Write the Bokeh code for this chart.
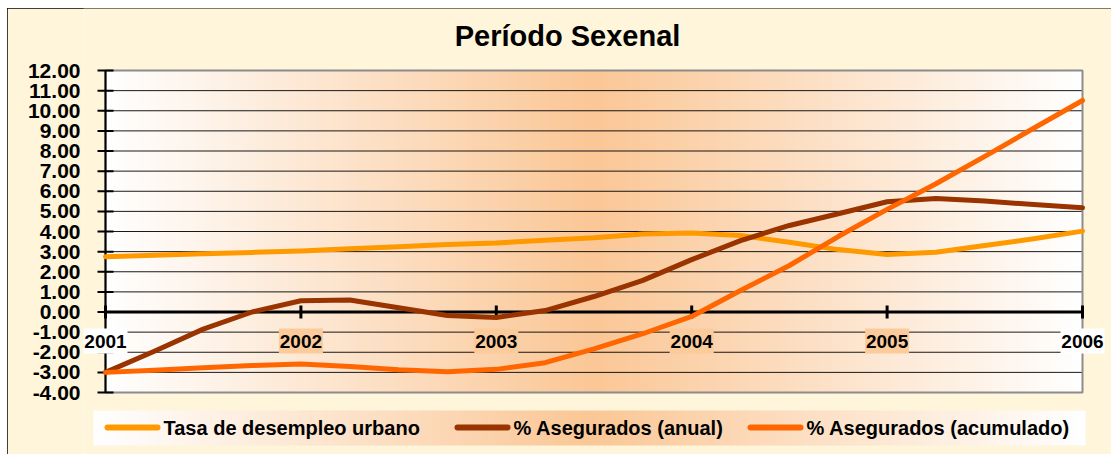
import numpy as np
from bokeh.plotting import figure
from bokeh.layouts import column, row
from bokeh.models import Range1d, FixedTicker, Spacer
from bokeh.core.properties import value
from bokeh.embed import file_html
from bokeh.resources import INLINE

# ---------------- data ----------------
periods = [2001.0, 2001.25, 2001.5, 2001.75, 2002.0, 2002.25, 2002.5, 2002.75,
           2003.0, 2003.25, 2003.5, 2003.75, 2004.0, 2004.25, 2004.5, 2004.75,
           2005.0, 2005.25, 2005.5, 2005.75, 2006.0]
tasa = [2.75, 2.82, 2.89, 2.96, 3.03, 3.14, 3.24, 3.35, 3.43, 3.57, 3.69, 3.88,
        3.93, 3.80, 3.47, 3.10, 2.86, 2.97, 3.30, 3.64, 4.02]
anual = [-3.00, -1.95, -0.85, 0.00, 0.56, 0.60, 0.21, -0.17, -0.27, 0.07, 0.77, 1.57,
         2.60, 3.55, 4.30, 4.88, 5.48, 5.64, 5.51, 5.34, 5.18]
acumulado = [-3.00, -2.90, -2.77, -2.66, -2.58, -2.71, -2.87, -2.97, -2.85, -2.52, -1.83, -1.08,
             -0.22, 1.07, 2.31, 3.75, 5.10, 6.37, 7.73, 9.13, 10.51]
series_names = ["Tasa de desempleo urbano", "% Asegurados (anual)", "% Asegurados (acumulado)"]
years = [2001, 2002, 2003, 2004, 2005, 2006]
year_labels = ["2001", "2002", "2003", "2004", "2005", "2006"]
y_ticks = [12, 11, 10, 9, 8, 7, 6, 5, 4, 3, 2, 1, 0, -1, -2, -3, -4]
y_tick_labels = ["12.00", "11.00", "10.00", "9.00", "8.00", "7.00", "6.00", "5.00", "4.00",
                 "3.00", "2.00", "1.00", "0.00", "-1.00", "-2.00", "-3.00", "-4.00"]
title_text = "Período Sexenal"

# ---------------- layout / styles ----------------
FONT = "Liberation Sans"
colors = ["#FF9900", "#993300", "#FF6600"]
PEACH = (251, 199, 150)
CREAM = "#FFF5DA"

# page geometry (pixels) of the chart
FIG_X, FIG_Y = 7, 8
FRAME_L, FRAME_R, FRAME_T, FRAME_B = 83, 1111, 8, 455
PA_L, PA_R, PA_T, PA_B = 105, 1082, 70, 392     # plot area
x0, x1 = years[0], years[-1]
ylo, yhi = y_ticks[-1], y_ticks[0]
sx = (PA_R - PA_L) / (x1 - x0)
sy = (PA_B - PA_T) / (yhi - ylo)


def px2x(px):
    return x0 + (px - PA_L) / sx


def py2y(py):
    return yhi - (py - PA_T) / sy


p = figure(output_backend="svg", toolbar_location=None,
           frame_width=FRAME_R - FRAME_L, frame_height=FRAME_B - FRAME_T,
           min_border_left=FRAME_L - FIG_X, min_border_right=0, min_border_top=0, min_border_bottom=0,
           x_range=Range1d(px2x(FRAME_L), px2x(FRAME_R)),
           y_range=Range1d(py2y(FRAME_B), py2y(FRAME_T)))
p.border_fill_color = CREAM
p.background_fill_color = CREAM
p.outline_line_color = None
p.styles = {"outline": "1px solid #000000", "outline-offset": "-1px"}
p.xaxis.visible = False
p.xgrid.visible = False
p.ygrid.visible = False


def gradient(n=240):
    t = 1 - np.abs(np.linspace(-1, 1, n))
    img = np.zeros((1, n), dtype=np.uint32)
    view = img.view(dtype=np.uint8).reshape((1, n, 4))
    for i, c in enumerate(PEACH):
        view[0, :, i] = (255 + (c - 255) * t).astype(np.uint8)
    view[0, :, 3] = 255
    return img


# plot-area gradient
p.image_rgba(image=[gradient()], x=x0, y=ylo, dw=x1 - x0, dh=yhi - ylo, level="image")

# y axis labels (library axis), axis line / ticks drawn at the plot-area edge
ya = p.yaxis[0]
ya.ticker = FixedTicker(ticks=y_ticks)
ya.major_label_overrides = {v: s for v, s in zip(y_ticks, y_tick_labels)}
ya.major_label_text_font = FONT
ya.major_label_text_font_style = "bold"
ya.major_label_text_font_size = "21px"
ya.major_label_text_color = "#000000"
ya.major_label_standoff = -3
ya.axis_line_color = None
ya.major_tick_line_color = None
ya.minor_tick_line_color = None

# grid lines
p.segment(x0=[x0] * len(y_ticks), x1=[x1] * len(y_ticks), y0=y_ticks, y1=y_ticks,
          line_color="#000000", line_width=1, line_alpha=0.9)
# plot area border
p.quad(left=[x0], right=[x1], bottom=[ylo], top=[yhi], fill_color=None,
       line_color="#8C8C8C", line_width=2)
# left axis line and ticks
p.segment(x0=[x0], x1=[x0], y0=[ylo], y1=[yhi], line_color="#000000", line_width=2)
p.scatter(x=[x0] * len(y_ticks), y=y_ticks, marker="dash", size=16,
          line_color="#000000", line_width=2)
# zero line with year ticks
p.segment(x0=[x0], x1=[x1], y0=[0], y1=[0], line_color="#000000", line_width=3)
p.scatter(x=years, y=[0] * len(years), marker="dash", angle=np.pi / 2, size=13,
          line_color="#000000", line_width=3)

# series
for vals, col in zip([tasa, anual, acumulado], colors):
    p.line(periods, vals, line_color=col, line_width=5, line_join="round", line_cap="round")

# year labels with opaque boxes
label_bg = ["#FFFFFF", "#FBCB9C", "#FBCB9C", "#FBCB9C", "#FBCB9C", "#FFFFFF"]
label_y = [py2y(340.5)] * len(years)
p.rect(x=years, y=label_y, width=44, height=25, width_units="screen", height_units="screen",
       fill_color=label_bg, line_color=None)
p.text(x=years, y=label_y, text=year_labels, text_font=value(FONT), text_font_style="bold",
       text_font_size="19px", text_color="#000000", text_align="center", text_baseline="middle")

# legend (drawn below plot area)
LG_L, LG_R, LG_T, LG_B = 93, 1085, 410, 445
p.image_rgba(image=[gradient()], x=px2x(LG_L), y=py2y(LG_B), dw=px2x(LG_R) - px2x(LG_L),
             dh=py2y(LG_T) - py2y(LG_B))
leg_y = py2y(427)
glyph_px = [107, 457, 750]
p.segment(x0=[px2x(g) for g in glyph_px], x1=[px2x(g + 50) for g in glyph_px],
          y0=[leg_y] * 3, y1=[leg_y] * 3, line_color=colors, line_width=6, line_cap="round")
p.text(x=[px2x(g + 56) for g in glyph_px], y=[leg_y] * 3, text=series_names,
       text_font=value(FONT), text_font_style="bold", text_font_size="20px",
       text_color="#000000", text_align="left", text_baseline="middle")

# title
p.text(x=[px2x(567)], y=[py2y(35)], text=[title_text], text_font=value(FONT),
       text_font_style="bold", text_font_size="29px", text_color="#000000",
       text_align="center", text_baseline="middle")

layout = column(Spacer(height=FIG_Y), row(Spacer(width=FIG_X), p))
open("out.html", "w").write(file_html(layout, INLINE))
